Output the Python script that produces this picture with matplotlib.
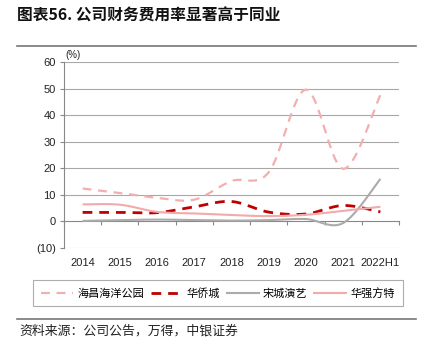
import numpy as np
import matplotlib
matplotlib.use("Agg")
import matplotlib.pyplot as plt
from matplotlib.lines import Line2D

plt.rcParams['font.family'] = ['Liberation Sans', 'Noto Sans CJK SC', 'DejaVu Sans']

categories = ['2014', '2015', '2016', '2017', '2018', '2019', '2020', '2021', '2022H1']
haichang = [12.4, 10.7, 8.9, 8.2, 15.2, 18.5, 49.6, 19.8, 47.6]
huaqiaocheng = [3.4, 3.4, 3.3, 5.5, 7.5, 3.5, 2.8, 6.0, 3.6]
songcheng = [0.2, 0.5, 0.7, 0.5, 0.3, 0.5, 0.9, -0.6, 16.0]
huaqiang = [6.4, 6.3, 3.6, 3.0, 2.4, 2.0, 2.5, 4.0, 5.5]
series_names = ['海昌海洋公园', '华侨城', '宋城演艺', '华强方特']
yticks = [60, 50, 40, 30, 20, 10, 0, -10]
ytick_labels = ['60', '50', '40', '30', '20', '10', '0', '(10)']


def smooth(xs, ys, n=30):
    xs = np.asarray(xs, float)
    ys = np.asarray(ys, float)
    P = np.column_stack([xs, ys])
    out = []
    for i in range(len(P) - 1):
        p0 = P[i - 1] if i > 0 else P[i]
        p1 = P[i]
        p2 = P[i + 1]
        p3 = P[i + 2] if i + 2 < len(P) else P[i + 1]
        c1 = p1 + (p2 - p0) / 6.0
        c2 = p2 - (p3 - p1) / 6.0
        t = np.linspace(0, 1, n)[:, None]
        seg = ((1 - t) ** 3) * p1 + 3 * ((1 - t) ** 2) * t * c1 + 3 * (1 - t) * t ** 2 * c2 + t ** 3 * p2
        out.append(seg if i == 0 else seg[1:])
    seg = np.vstack(out)
    return seg[:, 0], seg[:, 1]


fig = plt.figure(figsize=(4.28, 3.52), dpi=100)
ax = fig.add_axes([64 / 428, 1 - 248 / 352, (399 - 64) / 428, (248 - 62) / 352])

x = np.arange(len(categories))
styles = [
    dict(color='#F2AFAF', lw=1.6, dashes=(4, 3)),
    dict(color='#C00000', lw=2.0, dashes=(3.5, 2.5)),
    dict(color='#ABABAB', lw=1.5),
    dict(color='#F2AAAA', lw=1.5),
]
data = [haichang, huaqiaocheng, songcheng, huaqiang]
handles = []
for name, vals, st in zip(series_names, data, styles):
    sx, sy = smooth(x, vals)
    kw = dict(color=st['color'], lw=st['lw'])
    if 'dashes' in st:
        kw['dashes'] = st['dashes']
    ax.plot(sx, sy, solid_capstyle='butt', dash_capstyle='butt', zorder=3, **kw)
    handles.append(Line2D([], [], label=name, **kw))

ax.set_xlim(-0.5, len(categories) - 0.5)
ax.set_ylim(-10, 60)
ax.set_yticks(yticks)
ax.set_yticklabels(ytick_labels)
for lab in ax.get_yticklabels():
    if lab.get_text() == '(10)':
        lab.set_color('#FF0000')
ax.set_xticks(x)
ax.set_xticklabels(categories)
ax.tick_params(axis='x', length=0, labelsize=8, pad=7, colors='#222222')
ax.tick_params(axis='y', length=3, labelsize=8, color='#888888', labelcolor='#222222', pad=3)
for v in yticks:
    if v != 0:
        ax.axhline(v, color='#A8A8A8', lw=0.8, zorder=1)
for s in ['top', 'right', 'bottom']:
    ax.spines[s].set_visible(False)
ax.spines['left'].set_color('#888888')
ax.spines['left'].set_linewidth(0.8)

sec = ax.secondary_xaxis(1 / 7)
sec.set_xticks(np.arange(-0.5, len(categories), 1.0))
sec.set_xticklabels([])
sec.tick_params(axis='x', length=3, color='#888888', direction='out')
sec.spines['bottom'].set_color('#888888')
sec.spines['bottom'].set_linewidth(0.8)

fig.text(73 / 428, 1 - 55 / 352, '(%)', fontsize=7, ha='center', va='center', color='#222222')

fig.text(17 / 428, 1 - 16 / 352, '图表56. 公司财务费用率显著高于同业', fontsize=11.3, fontweight='bold',
         ha='left', va='center', family=['Noto Sans CJK SC', 'DejaVu Sans'], color='#111111')
fig.add_artist(Line2D([17 / 428, 416 / 428], [1 - 46 / 352, 1 - 46 / 352], color='#777777', lw=1.2))
fig.add_artist(Line2D([17 / 428, 416 / 428], [1 - 319 / 352, 1 - 319 / 352], color='#777777', lw=1.2))
fig.text(19 / 428, 1 - 331 / 352, '资料来源：公司公告，万得，中银证券', fontsize=9.3, style='italic',
         ha='left', va='center', family=['Noto Sans CJK SC', 'DejaVu Sans'], color='#222222')

leg = fig.legend(handles=handles, loc='center', bbox_to_anchor=(218 / 428, 1 - 293 / 352), ncol=4,
                 frameon=True, fancybox=False, edgecolor='#999999',
                 prop={'family': ['Noto Sans CJK SC', 'DejaVu Sans'], 'size': 8},
                 handlelength=2.9, columnspacing=0.6, handletextpad=0.35, borderpad=0.7)
leg.get_frame().set_linewidth(0.8)

fig.savefig('out.png', dpi=100)
